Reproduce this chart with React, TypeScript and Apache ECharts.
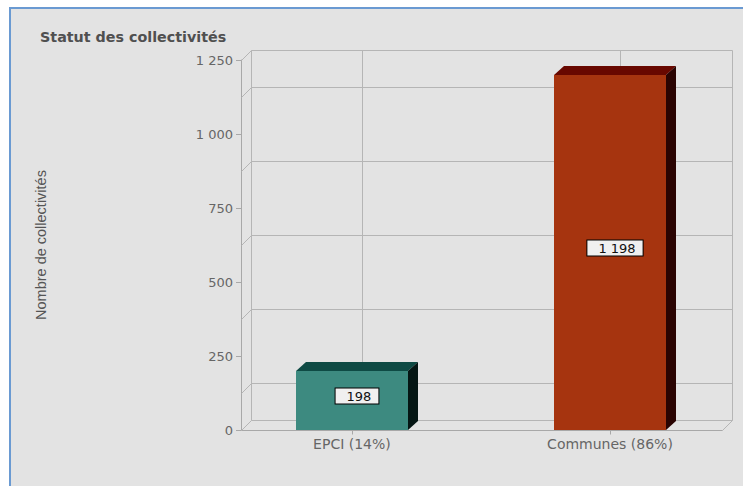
import React, { useEffect, useRef } from "react";
import * as echarts from "echarts";

const categories = ["EPCI (14%)", "Communes (86%)"];
const values = [198, 1198];
const frontColors = ["#3d8a80", "#a6340f"];
const topColors = ["#0e4a44", "#680800"];
const sideColors = ["#051614", "#2a0402"];
const yMin = 0;
const yMax = 1250;
const yInterval = 250;
const backGridValues = [125, 375, 625, 875, 1125];

const X_MIN = -0.43;
const X_MAX = 1.434;
const DEPTH_X = 10;
const DEPTH_Y = -10;
const BAR_DX = 10;
const BAR_DY = -9;
const BAR_WIDTH_UNITS = 0.434;
const GRID_COLOR = "#b5b5b5";
const AXIS_COLOR = "#a8a8a8";
const FONT = '"DejaVu Sans", Verdana, sans-serif';

const fmt = (v: number) => String(v).replace(/\B(?=(\d{3})+(?!\d))/g, " ");

const px = (v: number) => Math.round(v) + 0.5;

const line = (a: number, b: number, c: number, d: number, stroke = GRID_COLOR) => ({
  type: "line",
  shape: { x1: px(a), y1: px(b), x2: px(c), y2: px(d) },
  style: { stroke, lineWidth: 1 },
  silent: true,
});

export default function App() {
  const ref = useRef<HTMLDivElement>(null);

  useEffect(() => {
    if (!ref.current) return;
    const chart = echarts.init(ref.current, undefined, { renderer: "svg" });

    const sceneRender = (_params: any, api: any) => {
      const [fx0, fy0] = api.coord([X_MIN, yMin]);
      const [fx1, fy1] = api.coord([X_MAX, yMax]);
      const bx0 = fx0 + DEPTH_X;
      const bx1 = fx1 + DEPTH_X;
      const by0 = fy0 + DEPTH_Y;
      const by1 = fy1 + DEPTH_Y;
      const children: any[] = [];
      // back wall frame
      children.push(line(bx0, by1, bx1, by1));
      children.push(line(bx1, by1, bx1, by0));
      children.push(line(bx0, by1, bx0, by0));
      children.push(line(bx0, by0, bx1, by0));
      // side edges
      children.push(line(fx0, fy1, bx0, by1));
      children.push(line(fx0, fy0, bx0, by0));
      children.push(line(fx1, fy0, bx1, by0));
      // back grid lines
      backGridValues.forEach((v) => {
        const y = api.coord([X_MIN, v])[1];
        children.push(line(fx0, y, bx0, y + DEPTH_Y));
        children.push(line(bx0, y + DEPTH_Y, bx1, y + DEPTH_Y));
      });
      // category grid lines and labels
      categories.forEach((c, i) => {
        const x = api.coord([i, yMin])[0];
        children.push(line(x + DEPTH_X, by1, x + DEPTH_X, by0));
        children.push(line(x, fy0, x, fy0 + 4, AXIS_COLOR));
        children.push({
          type: "text",
          silent: true,
          style: {
            text: c,
            x: x,
            y: fy0 + 14,
            align: "center",
            verticalAlign: "middle",
            fill: "#666666",
            fontSize: 14,
            fontFamily: FONT,
          },
        });
      });
      // front bottom axis line
      children.push(line(fx0, fy0, fx1, fy0, AXIS_COLOR));
      return { type: "group", children };
    };

    const barRender = (params: any, api: any) => {
      const i = api.value(0);
      const v = api.value(1);
      const [x, yb] = api.coord([i, 0]);
      const yt = api.coord([i, v])[1];
      const w = api.size([BAR_WIDTH_UNITS, 0])[0];
      const l = Math.round(x - w / 2);
      const r = Math.round(x + w / 2);
      const t = Math.round(yt);
      const b = Math.round(yb);
      const idx = params.dataIndex;
      return {
        type: "group",
        children: [
          {
            type: "rect",
            shape: { x: l, y: t, width: r - l, height: b - t },
            style: { fill: frontColors[idx] },
          },
          {
            type: "polygon",
            shape: { points: [[l, t], [r, t], [r + BAR_DX, t + BAR_DY], [l + BAR_DX, t + BAR_DY]] },
            style: { fill: topColors[idx] },
          },
          {
            type: "polygon",
            shape: { points: [[r, t], [r + BAR_DX, t + BAR_DY], [r + BAR_DX, b + BAR_DY], [r, b]] },
            style: { fill: sideColors[idx] },
          },
          {
            type: "text",
            style: {
              text: fmt(v),
              x: (l + r + BAR_DX) / 2,
              y: (t + BAR_DY + b) / 2,
              align: "center",
              verticalAlign: "middle",
              fill: "#111111",
              fontSize: 13,
              fontFamily: FONT,
              backgroundColor: "#f0f0f0",
              borderColor: "#000000",
              borderWidth: 1,
              padding: [1, 7, 1, 11],
            },
          },
        ],
      };
    };

    chart.setOption({
      animation: false,
      title: {
        text: "Statut des collectivités",
        left: 35,
        top: 25,
        textStyle: { fontSize: 14.3, fontWeight: "bold", color: "#505050", fontFamily: FONT },
      },
      grid: { left: 241, top: 60, right: 21, bottom: 56 },
      xAxis: {
        type: "value",
        min: X_MIN,
        max: X_MAX,
        show: false,
      },
      yAxis: {
        type: "value",
        min: yMin,
        max: yMax,
        interval: yInterval,
        name: "Nombre de collectivités",
        nameLocation: "middle",
        nameRotate: 90,
        nameGap: 193,
        nameTextStyle: { fontSize: 14.5, color: "#555555", fontFamily: '"Liberation Sans", Arial, sans-serif' },
        axisLine: { show: true, onZero: false, lineStyle: { color: AXIS_COLOR } },
        axisTick: { show: true, length: 5, lineStyle: { color: AXIS_COLOR } },
        axisLabel: { color: "#666666", fontSize: 13, margin: 8, fontFamily: FONT, formatter: (v: number) => fmt(v) },
        splitLine: { show: false },
      },
      series: [
        {
          type: "custom",
          renderItem: sceneRender,
          data: [[0, 0]],
          silent: true,
          z: 1,
        },
        {
          type: "custom",
          renderItem: barRender,
          data: values.map((v, i) => [i, v]),
          z: 2,
        },
      ],
    });

    return () => chart.dispose();
  }, []);

  return (
    <div style={{ position: "fixed", left: 0, top: 0, width: 743, height: 486, background: "#ffffff", overflow: "hidden" }}>
      <div
        style={{
          position: "absolute",
          left: 9,
          top: 7,
          width: 734,
          height: 479,
          boxSizing: "border-box",
          borderTop: "2px solid #6a9ad2",
          borderLeft: "2px solid #6a9ad2",
          background: "#e3e3e3",
        }}
      />
      <div ref={ref} style={{ position: "absolute", left: 0, top: 0, width: 743, height: 486 }} />
    </div>
  );
}
